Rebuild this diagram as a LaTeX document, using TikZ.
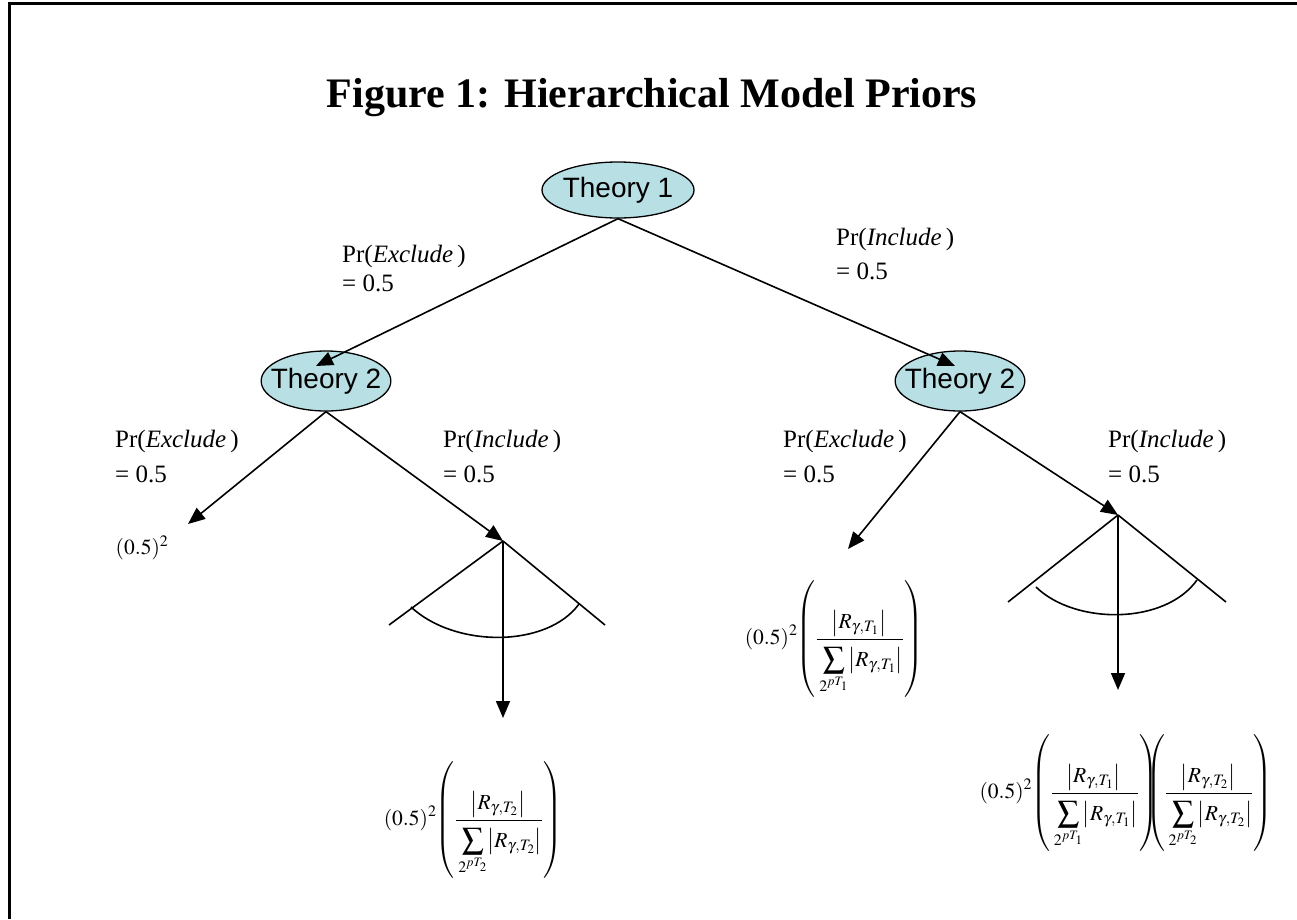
\documentclass[tikz,border=0pt]{standalone}
\usepackage{mathptmx}
\usepackage{fontspec}
\setmainfont{Liberation Serif}
\newfontfamily\arialf{Liberation Sans}
\usetikzlibrary{shapes.geometric,arrows.meta}
\definecolor{tealfill}{RGB}{184,224,228}
\newcommand{\Rg}[1]{\left|R_{\gamma,T_{#1}}\right|}
\newcommand{\Frc}[1]{\left(\frac{\displaystyle\Rg{#1}\rule[-5pt]{0pt}{5pt}}{\rule{0pt}{24pt}\displaystyle\sum_{2^{pT_{#1}}}\!\Rg{#1}}\right)}
\begin{document}
\begin{tikzpicture}[x=1pt,y=-1pt,
  theory/.style={ellipse, draw, line width=1.3pt, fill=tealfill, inner ysep=0pt,
     font=\arialf\fontsize{28}{32}\selectfont},
  ln/.style={line width=1.6pt},
  arr/.style={line width=1.6pt, -{Triangle[length=17pt,width=14pt]}},
  lbl/.style={anchor=base west, inner sep=0pt, font=\fontsize{25}{30}\selectfont},
  frm/.style={inner sep=0pt, font=\fontsize{21.5}{25}\selectfont}]
\useasboundingbox (0,0) rectangle (1297,919);
\draw[line width=2.5pt] (9.5,919) -- (9.5,3.5) -- (1297,3.5);
% title
\node[anchor=base, inner sep=0pt, font=\fontsize{42}{48}\selectfont\bfseries] (title) at (652,107) {Figure 1: Hierarchical Model Priors};
% theory nodes
\node[theory, inner xsep=-1.5pt, minimum height=56pt] (t1) at (618,190) {Theory 1};
\node[theory, inner xsep=-9.4pt, minimum height=60pt] (t2l) at (326,381) {Theory 2};
\node[theory, inner xsep=-9.4pt, minimum height=60pt] (t2r) at (960,381) {Theory 2};
% arrow tips / apexes
\coordinate (tl) at (316,366);
\coordinate (tr) at (955,366);
\coordinate (al) at (503,541);
\coordinate (ar) at (1118,515);
\coordinate (el) at (188,524);
\coordinate (er) at (848,549);
\coordinate (dl) at (503,718);
\coordinate (dr) at (1118,690);
\draw[arr] (t1.south) -- (tl);
\draw[arr] (t1.south) -- (tr);
\draw[arr] (t2l.south) -- (el);
\draw[arr] (t2l.south) -- (al);
\draw[arr] (t2r.south) -- (er);
\draw[arr] (t2r.south) -- (ar);
% left fan
\coordinate (lfl) at (389,625);
\coordinate (lfr) at (605,625);
\draw[ln] (al) -- (lfl);
\draw[ln] (al) -- (lfr);
\draw[arr] (al) -- (dl);
\draw[ln] (411,607) .. controls (455,648) and (547,648) .. (579,604);
% right fan
\coordinate (rfl) at (1008,602);
\coordinate (rfr) at (1226,602);
\draw[ln] (ar) -- (rfl);
\draw[ln] (ar) -- (rfr);
\draw[arr] (ar) -- (dr);
\draw[ln] (1036,587) .. controls (1075,625) and (1165,625) .. (1197,580);
% labels
\node[lbl] (a1) at (342,262) {Pr(\textit{Exclude}\,)};
\node[lbl] (a2) at (342,291) {= 0.5};
\node[lbl] (b1) at (836,245) {Pr(\textit{Include}\,)};
\node[lbl] (b2) at (836,279) {= 0.5};
\node[lbl] (c1) at (115,447) {Pr(\textit{Exclude}\,)};
\node[lbl] (c2) at (115,482) {= 0.5};
\node[lbl] (d1) at (443,447) {Pr(\textit{Include}\,)};
\node[lbl] (d2) at (443,482) {= 0.5};
\node[lbl] (e1) at (783,447) {Pr(\textit{Exclude}\,)};
\node[lbl] (e2) at (783,482) {= 0.5};
\node[lbl] (f1) at (1108,447) {Pr(\textit{Include}\,)};
\node[lbl] (f2) at (1108,482) {= 0.5};
% formulas
\node[frm] (r1) at (142,548) {$(0.5)^2$};
\node[frm] (r2) at (834,639) {$\displaystyle (0.5)^2\kern-3pt\Frc{1}$};
\node[frm] (r3) at (473,820) {$\displaystyle (0.5)^2\kern-3pt\Frc{2}$};
\node[frm] (r4) at (1126,793) {$\displaystyle (0.5)^2\kern-3pt\Frc{1}\kern-14pt\Frc{2}$};
\end{tikzpicture}
\end{document}
